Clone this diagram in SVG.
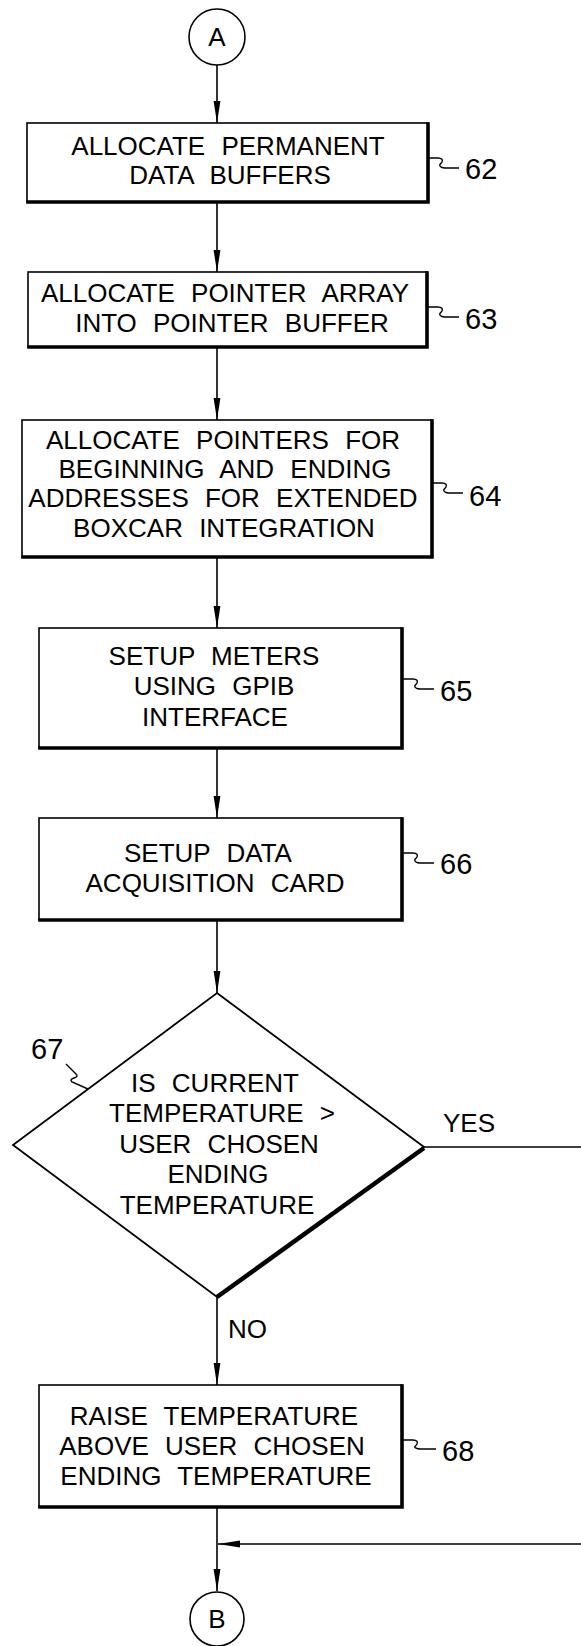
<svg xmlns="http://www.w3.org/2000/svg" width="581" height="1646" viewBox="0 0 581 1646">
<style>
.bg{fill:#fff}
.box{fill:#fff;stroke:#000;stroke-width:1.6}
.shadow{fill:none;stroke:#000;stroke-width:3.6;stroke-linecap:square}
.t{font-family:"Liberation Sans",Arial,sans-serif;font-size:26px;fill:#000;text-anchor:middle;word-spacing:9px}
.lbl{font-family:"Liberation Sans",Arial,sans-serif;font-size:29px;fill:#000}
.yn{font-family:"Liberation Sans",Arial,sans-serif;font-size:26px;fill:#000}
.conn{fill:none;stroke:#000;stroke-width:1.6}
.lead{fill:none;stroke:#000;stroke-width:1.4}
</style>
<defs>
<marker id="ah" viewBox="0 0 22 8" refX="22" refY="4" markerWidth="22" markerHeight="8" markerUnits="userSpaceOnUse" orient="auto">
<path d="M0,0.6 L22,4 L0,7.4 Z" fill="#000"/>
</marker>
</defs>
<rect class="bg" x="0" y="0" width="581" height="1646"/>

<g id="connectors">
<line class="conn" x1="217" y1="65" x2="217" y2="123" marker-end="url(#ah)"/>
<line class="conn" x1="217" y1="202" x2="217" y2="272" marker-end="url(#ah)"/>
<line class="conn" x1="217" y1="347" x2="217" y2="420" marker-end="url(#ah)"/>
<line class="conn" x1="217" y1="557" x2="217" y2="628" marker-end="url(#ah)"/>
<line class="conn" x1="217" y1="748" x2="217" y2="818" marker-end="url(#ah)"/>
<line class="conn" x1="217" y1="920" x2="217" y2="993" marker-end="url(#ah)"/>
<line class="conn" x1="217" y1="1297" x2="217" y2="1385" marker-end="url(#ah)"/>
<line class="conn" x1="217" y1="1507" x2="217" y2="1591" marker-end="url(#ah)"/>
<line class="conn" x1="424" y1="1147" x2="581" y2="1147"/>
<line class="conn" x1="581" y1="1544" x2="218" y2="1544" marker-end="url(#ah)"/>
<text class="yn" x="443" y="1132">YES</text>
<text class="yn" x="228" y="1338">NO</text>
</g>

<g id="startA">
<circle cx="217" cy="37" r="28" fill="#fff" stroke="#000" stroke-width="1.6"/>
<text class="t" x="217" y="46">A</text>
</g>

<g id="box62">
<rect class="box" x="27" y="123" width="401" height="79"/>
<path class="shadow" d="M428,124 V202 H28"/>
<text class="t" x="228" y="155">ALLOCATE PERMANENT</text>
<text class="t" x="230" y="184">DATA BUFFERS</text>
<path class="lead" d="M428,158 H438 c4,0 5,2 4,4 c-1,2 -4,3 -1,5 c1,1 3,1 6,1 H459"/>
<text class="lbl" x="465" y="179">62</text>
</g>

<g id="box63">
<rect class="box" x="28" y="272" width="399" height="75"/>
<path class="shadow" d="M427,273 V347 H29"/>
<text class="t" x="225" y="302">ALLOCATE POINTER ARRAY</text>
<text class="t" x="232" y="332">INTO POINTER BUFFER</text>
<path class="lead" d="M427,307 H438 c4,0 5,2 4,4 c-1,2 -4,3 -1,5 c1,1 3,1 6,1 H459"/>
<text class="lbl" x="465" y="329">63</text>
</g>

<g id="box64">
<rect class="box" x="22" y="420" width="410" height="137"/>
<path class="shadow" d="M432,421 V557 H23"/>
<text class="t" x="223" y="449">ALLOCATE POINTERS FOR</text>
<text class="t" x="225" y="478">BEGINNING AND ENDING</text>
<text class="t" x="223" y="507">ADDRESSES FOR EXTENDED</text>
<text class="t" x="224" y="537">BOXCAR INTEGRATION</text>
<path class="lead" d="M432,483 H442 c4,0 5,2 4,4 c-1,2 -4,3 -1,5 c1,1 3,1 6,1 H463"/>
<text class="lbl" x="469" y="506">64</text>
</g>

<g id="box65">
<rect class="box" x="39" y="628" width="363" height="120"/>
<path class="shadow" d="M402,629 V748 H40"/>
<text class="t" x="214" y="665">SETUP METERS</text>
<text class="t" x="214" y="695">USING GPIB</text>
<text class="t" x="215" y="726">INTERFACE</text>
<path class="lead" d="M402,679 H413 c4,0 5,2 4,4 c-1,2 -4,3 -1,5 c1,1 3,1 6,1 H434"/>
<text class="lbl" x="440" y="701">65</text>
</g>

<g id="box66">
<rect class="box" x="39" y="818" width="363" height="102"/>
<path class="shadow" d="M402,819 V920 H40"/>
<text class="t" x="208" y="862">SETUP DATA</text>
<text class="t" x="215" y="892">ACQUISITION CARD</text>
<path class="lead" d="M402,853 H413 c4,0 5,2 4,4 c-1,2 -4,3 -1,5 c1,1 3,1 6,1 H434"/>
<text class="lbl" x="440" y="874">66</text>
</g>

<g id="decision67">
<polygon points="217,993 424,1147 217,1297 13,1145" fill="#fff" stroke="#000" stroke-width="1.8" stroke-linejoin="miter"/>
<line x1="424" y1="1148" x2="217" y2="1297" stroke="#000" stroke-width="4.5"/>
<text class="t" x="215" y="1092">IS CURRENT</text>
<text class="t" x="222" y="1122">TEMPERATURE &gt;</text>
<text class="t" x="219" y="1153">USER CHOSEN</text>
<text class="t" x="218" y="1183">ENDING</text>
<text class="t" x="217" y="1214">TEMPERATURE</text>
<path class="lead" d="M66,1064 L76,1074 c2,2 1,3 -2,4 c-3,1 -4,2 -2,4 L88,1089"/>
<text class="lbl" x="31" y="1059">67</text>
</g>

<g id="box68">
<rect class="box" x="39" y="1385" width="363" height="122"/>
<path class="shadow" d="M402,1386 V1507 H40"/>
<text class="t" x="214" y="1425">RAISE TEMPERATURE</text>
<text class="t" x="212" y="1455">ABOVE USER CHOSEN</text>
<text class="t" x="216" y="1485">ENDING TEMPERATURE</text>
<path class="lead" d="M402,1440 H413 c4,0 5,2 4,4 c-1,2 -4,3 -1,4 c1,1 3,1 6,1 H436"/>
<text class="lbl" x="442" y="1461">68</text>
</g>

<g id="endB">
<circle cx="217" cy="1619" r="27" fill="#fff" stroke="#000" stroke-width="1.6"/>
<text class="t" x="217" y="1628">B</text>
</g>
</svg>
